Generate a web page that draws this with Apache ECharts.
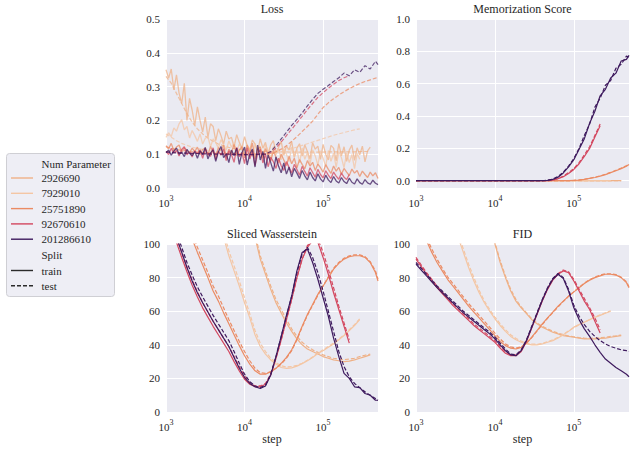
<!DOCTYPE html>
<html><head><meta charset="utf-8">
<script src="https://cdn.jsdelivr.net/npm/echarts@6/dist/echarts.min.js"></script>
<style>html,body{margin:0;padding:0;background:#fff}#c{width:636px;height:450px}</style>
</head><body><div id="c"></div>
<script>
// ---------------- data ----------------
const sizes = ['2926690','7929010','25751890','92670610','201286610'];
const colors = ['#efb187','#f4c6a4','#eb8b63','#d3475f','#3e1a5e'];
const splits = ['train','test'];
const panelTitles = ['Loss','Memorization Score','Sliced Wasserstein','FID'];

const steps = [1000,1166,1359,1585,1848,2154,2512,2929,3415,3981,4642,5412,6310,7356,8577,10000,11659,13594,15849,18478,21544,25119,29286,34145,39811,46416,54117,63096,73564,85770,100000,116591,135936,158489,184785,215443,251189,292864,341455,398107,464159,500000];
const stepsFine = [1000,1080,1166,1259,1359,1468,1585,1711,1848,1995,2154,2326,2512,2712,2929,3162,3415,3687,3981,4299,4642,5012,5412,5843,6310,6813,7356,7943,8577,9261,10000,10798,11659,12589,13594,14678,15849,17113,18478,19953,21544,23263,25119,27123,29286,31623,34145,36869,39811,42987,46416,50119,54117,58434,63096,68129,73564,79433,85770,92611,100000,107978,116591,125893,135936,146780,158489,171133,184785,199526,215443,232631,251189,271227,292864,316228,341455,368695,398107,429866,464159,500000];

// Loss, train split (fine steps)
const lossTrain2926690 = [0.35,0.325,0.352,0.29,0.335,0.28,0.25,0.31,0.2,0.265,0.23,0.185,
 0.24,0.2,0.165,0.21,0.15,0.19,0.182,0.14,0.175,0.155,0.13,0.168,0.145,0.15,0.122,0.158,0.135,0.118,
 0.152,0.125,0.113,0.142,0.13,0.108,0.145,0.118,0.135,0.1,0.128,0.14,0.105,0.12,0.138,
 0.097,0.125,0.112,0.138,0.09,0.118,0.131,0.094,0.128,0.108,0.086,0.134,0.115,0.124,0.085,
 0.129,0.1,0.083,0.126,0.118,0.08,0.131,0.095,0.122,0.079,0.112,0.127,0.082,0.119,0.098,0.124,0.077,0.11,0.121];
const lossTrain7929010 = [0.15,0.163,0.152,0.178,0.168,0.19,0.202,0.172,0.182,0.148,0.17,0.155,
 0.138,0.16,0.13,0.147,0.152,0.122,0.145,0.135,0.118,0.143,0.128,0.112,0.139,0.121,0.133,0.108,0.13,0.117,
 0.1,0.128,0.112,0.094,0.131,0.105,0.124,0.09,0.127,0.11,0.086,0.123,0.098,0.118,0.083,
 0.117,0.1,0.078,0.121,0.092,0.114,0.074,0.119,0.085,0.105,0.07,0.113,0.095,0.068,0.11,
 0.088,0.064,0.111,0.079,0.103,0.061,0.108,0.09,0.06,0.104,0.075,0.099,0.057,0.102,0.085];
const lossTrain25751890 = [0.125,0.116,0.132,0.11,0.121,0.127,0.106,0.119,0.112,0.104,0.118,0.108,
 0.121,0.099,0.114,0.118,0.097,0.123,0.106,0.094,0.119,0.111,0.126,0.091,0.115,0.103,0.129,0.096,0.112,0.122,
 0.089,0.127,0.104,0.133,0.086,0.115,0.121,0.088,0.116,0.098,0.08,0.109,0.092,0.074,0.1,
 0.083,0.066,0.094,0.072,0.088,0.06,0.084,0.07,0.057,0.081,0.065,0.076,0.052,0.071,0.06,
 0.047,0.069,0.055,0.043,0.065,0.05,0.061,0.041,0.058,0.047,0.037,0.056,0.044,0.052,0.034,0.05,0.04,0.031,0.047,0.036,0.045,0.028];
const lossTrain92670610 = [0.108,0.099,0.117,0.104,0.111,0.095,0.114,0.122,0.098,0.106,0.092,0.11,
 0.101,0.113,0.088,0.116,0.1,0.094,0.119,0.084,0.108,0.097,0.116,0.081,0.11,0.099,0.076,0.12,0.093,0.105,
 0.072,0.119,0.086,0.11,0.066,0.102,0.114,0.074,0.1,0.063,0.091,0.078,0.058,0.088,0.066,
 0.052,0.078,0.061,0.044,0.07,0.055,0.038,0.064,0.049,0.035,0.06,0.046,0.032,0.055,0.04,
 0.03,0.051,0.038,0.028,0.047,0.035,0.026,0.044,0.032,0.025,0.04];
const lossTrain201286610 = [0.105,0.112,0.097,0.109,0.118,0.1,0.106,0.093,0.114,0.102,0.096,0.108,
 0.088,0.11,0.099,0.12,0.086,0.104,0.113,0.079,0.107,0.123,0.09,0.101,0.075,0.112,0.096,0.118,0.07,0.104,
 0.121,0.068,0.1,0.115,0.062,0.127,0.083,0.108,0.058,0.098,0.075,0.05,0.092,0.064,0.045,
 0.074,0.041,0.062,0.033,0.058,0.044,0.028,0.052,0.036,0.024,0.047,0.031,0.021,0.042,0.027,
 0.018,0.038,0.024,0.016,0.034,0.021,0.015,0.031,0.019,0.013,0.029,0.017,0.012,0.027,0.016,0.011,0.025,0.015,0.011,0.023,0.014,0.01];

// Loss, test split (coarse steps)
const lossTest2926690 = [0.33,0.31,0.28,0.25,0.22,0.195,0.175,0.16,0.148,0.138,0.13,0.125,0.12,0.117,0.114,0.112,0.111,0.11,0.109,0.108,0.108,0.107,0.107,0.107,0.106,0.106,0.106,0.106,0.106,0.106,0.106,0.107,0.107,0.107,0.107,0.107,0.107,0.108,0.108,0.108];
const lossTest7929010 = [0.16,0.15,0.14,0.132,0.126,0.121,0.117,0.114,0.111,0.109,0.107,0.106,0.105,0.104,0.103,0.102,0.102,0.101,0.101,0.101,0.102,0.105,0.108,0.112,0.117,0.121,0.126,0.131,0.136,0.141,0.146,0.151,0.156,0.16,0.164,0.168,0.172,0.175];
const lossTest25751890 = [0.122,0.118,0.114,0.111,0.109,0.107,0.106,0.105,0.104,0.103,0.102,0.102,0.101,0.101,0.1,0.1,0.1,0.1,0.1,0.1,0.102,0.107,0.115,0.125,0.138,0.152,0.167,0.182,0.198,0.218,0.238,0.252,0.264,0.275,0.285,0.294,0.302,0.309,0.315,0.32,0.325,0.328];
const lossTest92670610 = [0.108,0.106,0.105,0.104,0.103,0.103,0.102,0.102,0.101,0.101,0.1,0.1,0.1,0.1,0.099,0.099,0.099,0.099,0.1,0.101,0.105,0.118,0.136,0.155,0.174,0.193,0.212,0.232,0.25,0.268,0.282,0.295,0.307,0.318,0.326,0.332];
const lossTest201286610 = [0.106,0.105,0.104,0.103,0.103,0.102,0.102,0.101,0.101,0.1,0.1,0.1,0.1,0.099,0.099,0.099,0.099,0.099,0.1,0.1,0.108,0.125,0.145,0.165,0.185,0.203,0.222,0.243,0.262,0.28,0.292,0.303,0.315,0.326,0.34,0.332,0.35,0.342,0.362,0.352,0.375,0.365];

// Memorization score (coarse steps)
const memTrain2926690 = [0,0,0,0,0,0,0,0,0,0,0,0,0,0,0,0,0,0,0,0,0,0,0,0,0,0,0,0,0,0,0,0,0,0,0,0,0,0,0,0];
const memTest2926690  = [0,0,0,0,0,0,0,0,0,0,0,0,0,0,0,0,0,0,0,0,0,0,0,0,0,0,0,0,0,0,0,0,0,0,0,0,0,0,0,0];
const memTrain7929010 = [0,0,0,0,0,0,0,0,0,0,0,0,0,0,0,0,0,0,0,0,0,0,0,0,0,0,0,0,0,0,0,0,0,0,0,0,0,0];
const memTest7929010  = [0,0,0,0,0,0,0,0,0,0,0,0,0,0,0,0,0,0,0,0,0,0,0,0,0,0,0,0,0,0,0,0,0,0,0,0,0,0];
const memTrain25751890 = [0,0,0,0,0,0,0,0,0,0,0,0,0,0,0,0,0,0,0,0,0,0,0,0,0,0,0,0,0,0,0.002,0.004,0.008,0.014,0.02,0.028,0.038,0.05,0.062,0.075,0.09,0.1];
const memTest25751890  = [0,0,0,0,0,0,0,0,0,0,0,0,0,0,0,0,0,0,0,0,0,0,0,0,0,0,0,0,0,0,0.002,0.005,0.009,0.015,0.022,0.03,0.04,0.052,0.065,0.078,0.093,0.102];
const memTrain92670610 = [0,0,0,0,0,0,0,0,0,0,0,0,0,0,0,0,0,0,0,0,0,0,0,0,0,0,0.003,0.012,0.025,0.045,0.07,0.105,0.15,0.2,0.27,0.34];
const memTest92670610  = [0,0,0,0,0,0,0,0,0,0,0,0,0,0,0,0,0,0,0,0,0,0,0,0,0,0,0.004,0.014,0.028,0.05,0.076,0.112,0.16,0.21,0.28,0.35];
const memTrain201286610 = [0,0,0,0,0,0,0,0,0,0,0,0,0,0,0,0,0,0,0,0,0,0,0,0,0,0.002,0.008,0.022,0.048,0.085,0.13,0.195,0.26,0.355,0.43,0.525,0.565,0.635,0.665,0.74,0.75,0.775];
const memTest201286610  = [0,0,0,0,0,0,0,0,0,0,0,0,0,0,0,0,0,0,0,0,0,0,0,0,0,0.003,0.01,0.026,0.053,0.09,0.138,0.2,0.28,0.35,0.455,0.51,0.59,0.62,0.695,0.72,0.77,0.765];

// Sliced Wasserstein (coarse steps)
const swTrain2926690 = [null,null,null,null,null,null,null,null,null,null,null,null,null,null,null,null,118,104,91,82,73,65,59,53,48,43.5,40,37.5,36,34.5,33,32,31,30.5,30,30.3,31,32,33,34];
const swTest2926690  = [null,null,null,null,null,null,null,null,null,null,null,null,null,null,null,null,121,106,93,84,75,67,61,55,49.5,45,41.5,39,37,35.5,34,33,32,31.5,31.2,31.5,32,33,33.8,34.5];
const swTrain7929010 = [null,null,null,null,null,null,null,null,null,null,115,104,93,84,75,65,56,46,39,34.5,31,28.5,26.5,26,26.3,27.3,28.8,30.5,32.5,34.8,36.5,38.5,40.5,43,45.5,48.5,51.5,55];
const swTest7929010  = [null,null,null,null,null,null,null,null,null,null,118,107,96,87,78,68,58.5,48.5,41,36,32,29.5,27.5,26.8,27,27.8,29,30.8,32.8,35,37,39,41,43.5,46,49,52,55.5];
const swTrain25751890 = [150,140,130,121,112,103,95,87.5,80,72,66,59,52.5,46,39.5,33.5,28.5,24.5,22.5,22.5,24,26,29,32.5,37,43.5,51,58,64,70,75,80,85,88.5,91,92.5,93,93,92,89,83,78];
const swTest25751890  = [153,143,133,124,115,106,98,90.5,83,75,69,62,55,48.5,42,36,30.5,26,23.5,23,24,26,28.5,32,36.5,43,50.5,57.5,63.5,69.5,75,80.5,85.5,89,91.5,93,93.5,93.5,92.5,89.5,84,79];
const swTrain92670610 = [122,111,101,92,83.5,75.5,68.5,62,56.5,51,46,41,36,30,24.5,19.5,16.5,15,15,16.5,22,32,43,55,67,80,91,98,102,101,92,82,71,61,51,41];
const swTest92670610  = [125,114,104,95,86.5,78.5,71.5,65,59.5,54,49,44,39,33,27,21.5,17.5,15.5,15.5,17,22.5,32,43,55,67,80,91,99,103,103,95,85,74,63,53,43];
const swTrain201286610 = [125,114,104,95,86,78,71,65,59.5,54,49,44,39,32.5,26,20.5,17,15,14,15.5,22,33,45,57.5,69,84,95,97,89,79,68,57,44,33,23,20,15,14.5,11,10,7,7];
const swTest201286610  = [128,117,107,98,89,81.5,74.5,68.5,63,57.5,52.5,47.5,42.5,36,29,22.5,18,15.5,14.5,16,22.5,33,45,57,69,83,94,98,92,83,72,60,48,36,27,21,17,14.5,12,10,8,7];

// FID (coarse steps)
const fidTrain2926690 = [null,null,null,null,null,null,null,null,null,null,null,null,null,null,108,100,89,80,72,66,62,58.5,55,52.5,50.5,49,47.5,46.5,45.5,45,44.5,44,43.5,43.5,43.5,43.8,44,44.5,45,45.5];
const fidTest2926690  = [null,null,null,null,null,null,null,null,null,null,null,null,null,null,109,101,90,81,73,67,62.5,59,55.5,53,51,49.5,48,47,46,45.2,44.8,44.3,44,43.8,44,44.2,44.5,45,45.3,45.8];
const fidTrain7929010 = [null,null,null,null,null,null,null,null,104,95,86,78,71,65,60,55.5,51.5,48,45,43,41.5,40.5,40,40,40.5,41.5,42.5,44,46,48,50.5,52,53.5,55,56.3,57.5,58.8,60];
const fidTest7929010  = [null,null,null,null,null,null,null,null,106,97,88,80,72.5,66,61,56.5,52.5,49,46,43.8,42.2,41,40.5,40.3,40.8,41.8,43,44.5,46.3,48.3,50.2,52,53.3,55,56.5,57.8,59,60.3];
const fidTrain25751890 = [118,109,102,95,89,84,79,75,71,67,63,59.5,56,52.5,49,45.5,42,39.5,38,37.5,38.5,41,44.5,48.5,52.5,56,59.5,63,66,69,71.5,74,76.5,78.5,80,81,82,82,81.5,80,77,74];
const fidTest25751890  = [120,111,104,97,91,85.5,80.5,76.5,72.5,68.5,64.5,61,57.5,54,50.5,47,43.5,40.5,38.8,38,38.8,41,44.3,48.2,52,55.8,59.2,62.5,65.8,68.8,71.5,74.2,76.8,78.8,80.3,81.5,82.3,82.3,81.8,80.2,77.5,74.5];
const fidTrain92670610 = [91,86.5,82,78,74,70.5,67,63.5,60.5,57.5,54.5,51.5,49,46.5,44,41.5,38,35,33.5,33.5,36,42,50,58,66,73,78.5,82,84,83,78,72,66,61,54,47];
const fidTest92670610  = [92,87.5,83,79,75,71.5,68,64.5,61.5,58.5,55.5,52.5,50,47.5,45,42.5,39,36,34,34,36.5,42.5,50.5,58.5,66.5,73.5,79,82.5,84.5,83.5,79,73,67.5,62,56,49];
const fidTrain201286610 = [88,84.5,81,77.5,74,71,68,65,62,59,56.5,54,51.5,49,46.5,43.5,40,36.5,34,33.5,36.5,42.5,50.5,58.5,66.5,73.5,79,82,79.5,72,62,55,49.5,45,40,35.5,31.5,29,26.5,24.5,22.5,21];
const fidTest201286610  = [89,85.5,82,78.5,75,72,69,66,63,60,57.5,55,52.5,50,47.5,44.5,41,37.5,34.5,34,37,43,51,59,67,74,79.5,82.5,80,73,63.5,57,52,48,45,42.5,40.5,39,38,37,36.5,36];

// ---------------- assembly ----------------
const lossTrain = [lossTrain2926690,lossTrain7929010,lossTrain25751890,lossTrain92670610,lossTrain201286610];
const lossTest  = [lossTest2926690,lossTest7929010,lossTest25751890,lossTest92670610,lossTest201286610];
const memTrain  = [memTrain2926690,memTrain7929010,memTrain25751890,memTrain92670610,memTrain201286610];
const memTest   = [memTest2926690,memTest7929010,memTest25751890,memTest92670610,memTest201286610];
const swTrain   = [swTrain2926690,swTrain7929010,swTrain25751890,swTrain92670610,swTrain201286610];
const swTest    = [swTest2926690,swTest7929010,swTest25751890,swTest92670610,swTest201286610];
const fidTrain  = [fidTrain2926690,fidTrain7929010,fidTrain25751890,fidTrain92670610,fidTrain201286610];
const fidTest   = [fidTest2926690,fidTest7929010,fidTest25751890,fidTest92670610,fidTest201286610];

const FONT = 'Liberation Serif';
const TXT = '#262626';
const BG = '#eaeaf2';

function pts(xs, ys){ const out=[]; for(let i=0;i<ys.length;i++){ if(ys[i]!=null) out.push([xs[i], ys[i]]); } return out; }

const grids = [
  {left:166, top:19, width:212, height:169},
  {left:416, top:19, width:213, height:169},
  {left:166, top:244, width:212, height:168},
  {left:416, top:244, width:213, height:168}
];
grids.forEach(g=>{ g.show=true; g.backgroundColor=BG; g.borderWidth=0; g.containLabel=false; });

function fmtX(v){ const l=Math.log10(v), r=Math.round(l); return Math.abs(l-r)<1e-6 ? '{b|10}{s|'+r+'}' : ''; }
const xAxes = [0,1,2,3].map(i=>({
  type:'log', logBase:10, gridIndex:i, min:1000, max:500000,
  axisLine:{show:false}, axisTick:{show:false},
  splitLine:{show:true, lineStyle:{color:'#ffffff', width:1}},
  axisLabel:{formatter:fmtX, margin:6, color:TXT, fontFamily:FONT, fontSize:11,
    rich:{b:{fontSize:11, fontFamily:FONT, color:TXT, lineHeight:14, verticalAlign:'bottom'},
          s:{fontSize:8, fontFamily:FONT, color:TXT, lineHeight:14, verticalAlign:'top', padding:[0,0,6,0]}}},
  name: i>=2 ? 'step' : '', nameLocation:'middle', nameGap:19,
  nameTextStyle:{fontFamily:FONT, fontSize:12, color:TXT}
}));
function yBase(i){ return {type:'value', gridIndex:i, axisLine:{show:false}, axisTick:{show:false},
  splitLine:{show:true, lineStyle:{color:'#ffffff', width:1}},
  axisLabel:{margin:6, color:TXT, fontFamily:FONT, fontSize:11}}; }
const yAxes = [
  Object.assign(yBase(0), {min:0, max:0.5, interval:0.1}),
  Object.assign(yBase(1), {min:-0.045, max:1.0, splitNumber:5}),
  Object.assign(yBase(2), {min:0, max:100, interval:20}),
  Object.assign(yBase(3), {min:0, max:100, interval:20})
];
yAxes[0].axisLabel.formatter = v => v.toFixed(1);
yAxes[1].axisLabel.formatter = v => { const q=v/0.2; return Math.abs(q-Math.round(q))<1e-6 ? v.toFixed(1) : ''; };

const series = [];
function addPanel(gi, trainArrs, trainX, testArrs, testX, opacity, trainWidth){
  sizes.forEach((s, si)=>{
    series.push({type:'line', name:s, xAxisIndex:gi, yAxisIndex:gi, data:pts(trainX, trainArrs[si]),
      showSymbol:false, symbol:'none', silent:true, clip:true,
      lineStyle:{color:colors[si], width:trainWidth, opacity:opacity, type:'solid'}});
    series.push({type:'line', name:s, xAxisIndex:gi, yAxisIndex:gi, data:pts(testX, testArrs[si]),
      showSymbol:false, symbol:'none', silent:true, clip:true,
      lineStyle:{color:colors[si], width:1.2, opacity:opacity, type:[4,2]}});
  });
}
addPanel(0, lossTrain, stepsFine, lossTest, steps, 0.75, 1.3);
addPanel(1, memTrain, steps, memTest, steps, 1, 1.2);
addPanel(2, swTrain, steps, swTest, steps, 1, 1.2);
addPanel(3, fidTrain, steps, fidTest, steps, 1, 1.2);

const titleCenters = [[272,3],[522.5,3],[272,227.5],[522.5,227.5]];
const titles = panelTitles.map((t,i)=>({text:t, left:titleCenters[i][0], top:titleCenters[i][1], textAlign:'center', padding:0,
  textStyle:{fontFamily:FONT, fontSize:12, fontWeight:'normal', color:TXT}}));

// legend drawn as graphic
const graphic = [{type:'rect', shape:{x:6.5, y:153.5, width:108, height:143, r:3},
  style:{fill:'#eeeef5', stroke:'#cfcfd4', lineWidth:1}, z:10}];
function gText(t, y){ return {type:'text', x:41.5, y:y, z:11, style:{text:t, fontFamily:FONT, fontSize:11, fill:TXT, verticalAlign:'middle', align:'left'}}; }
function gLine(y, color, dash){ return {type:'line', z:11, shape:{x1:11, y1:y, x2:33, y2:y}, style:{stroke:color, lineWidth:1.4, lineDash:dash||null}}; }
graphic.push(gText('Num Parameter', 163.5));
sizes.forEach((s,i)=>{ const y = 178 + i*15.3; graphic.push(gLine(y, colors[i])); graphic.push(gText(s, y)); });
graphic.push(gText('Split', 255));
graphic.push(gLine(270.5, '#2b2b2b')); graphic.push(gText(splits[0], 270.5));
graphic.push(gLine(285.8, '#2b2b2b', [4,2])); graphic.push(gText(splits[1], 285.8));

const chart = echarts.init(document.getElementById('c'), null, {renderer:'svg', width:636, height:450});
chart.setOption({
  animation:false, backgroundColor:'#ffffff',
  title:titles, grid:grids, xAxis:xAxes, yAxis:yAxes, series:series, graphic:graphic
});
</script></body></html>
